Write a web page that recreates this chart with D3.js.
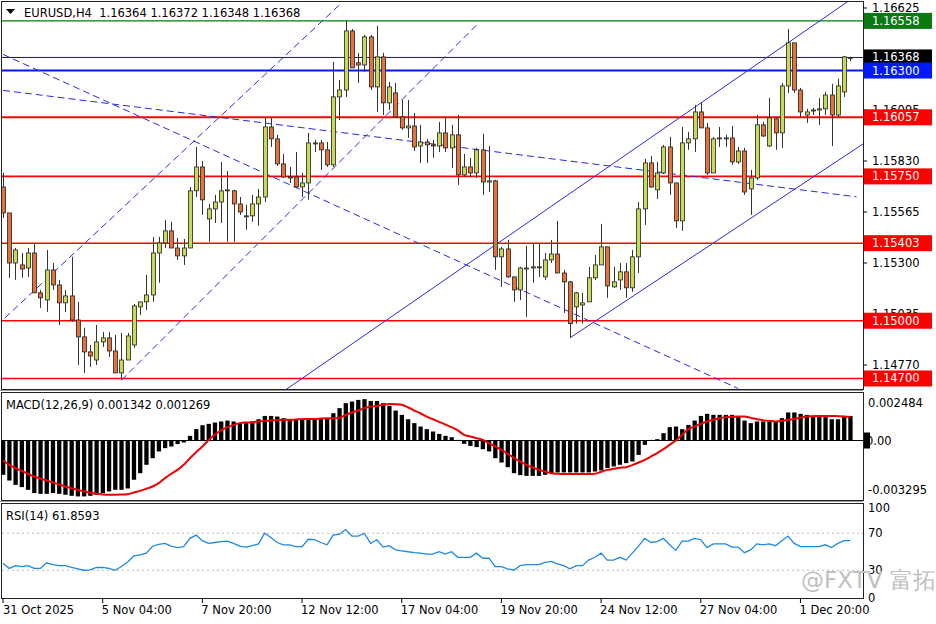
<!DOCTYPE html>
<html><head><meta charset="utf-8">
<script src="https://cdn.jsdelivr.net/npm/d3@7/dist/d3.min.js"></script>
<style>body{margin:0;background:#fff}svg{display:block}text{font-family:"DejaVu Sans",sans-serif}</style>
</head><body><svg id="c" width="936" height="624"></svg>
<script>
const opens=[1.15695,1.15560,1.15300,1.15290,1.15274,1.15352,1.15145,1.15108,1.15264,1.15186,1.15093,1.15129,1.15004,1.14916,1.14838,1.14796,1.14890,1.14911,1.14843,1.14729,1.14796,1.14874,1.15072,1.15098,1.15134,1.15352,1.15404,1.15467,1.15378,1.15337,1.15378,1.15675,1.15799,1.15529,1.15581,1.15617,1.15680,1.15675,1.15607,1.15545,1.15545,1.15607,1.15643,1.16007,1.15945,1.15815,1.15747,1.15747,1.15695,1.15716,1.15924,1.15924,1.15888,1.15810,1.16163,1.16199,1.16506,1.16340,1.16329,1.16475,1.16215,1.16371,1.16132,1.16184,1.16059,1.16002,1.16012,1.15908,1.15929,1.15914,1.15908,1.15976,1.15898,1.15966,1.15758,1.15799,1.15768,1.15888,1.15721,1.15727,1.15332,1.15373,1.15228,1.15160,1.15274,1.15274,1.15280,1.15228,1.15316,1.15347,1.15248,1.15202,1.15072,1.15082,1.15098,1.15223,1.15290,1.15384,1.15176,1.15212,1.15254,1.15171,1.15332,1.15581,1.15820,1.15680,1.15768,1.15903,1.15716,1.15519,1.15924,1.15945,1.16085,1.16002,1.15768,1.15950,1.15950,1.15950,1.15825,1.15882,1.15685,1.15742,1.16018,1.15908,1.16049,1.15976,1.16220,1.16444,1.16199,1.16069,1.16095,1.16095,1.16101,1.16173,1.16069,1.16189,1.16364];
const highs=[1.15768,1.15560,1.15378,1.15352,1.15378,1.15404,1.15160,1.15368,1.15300,1.15212,1.15160,1.15332,1.15098,1.14963,1.14874,1.14978,1.14942,1.14942,1.14926,1.14937,1.14937,1.15087,1.15098,1.15238,1.15436,1.15436,1.15524,1.15514,1.15430,1.15425,1.15695,1.15903,1.15830,1.15607,1.15654,1.15825,1.15778,1.15680,1.15643,1.15602,1.15654,1.15685,1.16054,1.16054,1.15966,1.15867,1.15799,1.15877,1.15768,1.15976,1.15940,1.15940,1.15929,1.16345,1.16251,1.16558,1.16516,1.16392,1.16485,1.16485,1.16532,1.16392,1.16241,1.16236,1.16147,1.16147,1.16080,1.16018,1.15945,1.15940,1.16033,1.16059,1.16018,1.16069,1.15867,1.15846,1.15898,1.15971,1.15908,1.15732,1.15384,1.15420,1.15228,1.15280,1.15389,1.15404,1.15404,1.15352,1.15420,1.15519,1.15264,1.15207,1.15150,1.15145,1.15280,1.15342,1.15503,1.15384,1.15280,1.15300,1.15300,1.15368,1.15617,1.15841,1.15856,1.15825,1.15914,1.15955,1.15716,1.16007,1.15981,1.16121,1.16132,1.16028,1.15955,1.16007,1.15966,1.16012,1.15903,1.15898,1.15784,1.16069,1.16033,1.16158,1.16059,1.16236,1.16516,1.16444,1.16210,1.16101,1.16106,1.16158,1.16189,1.16231,1.16257,1.16376,1.16372];
const lows=[1.15534,1.15223,1.15212,1.15223,1.15228,1.15145,1.15067,1.15046,1.15160,1.14978,1.15046,1.14994,1.14770,1.14729,1.14760,1.14770,1.14864,1.14812,1.14729,1.14693,1.14796,1.14859,1.15030,1.15056,1.15098,1.15197,1.15378,1.15378,1.15316,1.15290,1.15378,1.15643,1.15550,1.15410,1.15508,1.15508,1.15410,1.15410,1.15550,1.15472,1.15514,1.15493,1.15617,1.15903,1.15804,1.15742,1.15716,1.15690,1.15643,1.15628,1.15877,1.15784,1.15799,1.15799,1.16043,1.16163,1.16314,1.16236,1.16293,1.16199,1.16085,1.16069,1.16095,1.16059,1.15992,1.15950,1.15882,1.15820,1.15820,1.15846,1.15877,1.15877,1.15794,1.15706,1.15747,1.15747,1.15742,1.15654,1.15669,1.15264,1.15176,1.15223,1.15098,1.15108,1.15020,1.15197,1.15228,1.15212,1.15300,1.15248,1.15041,1.14911,1.14985,1.14985,1.15098,1.15212,1.15290,1.15119,1.15171,1.15160,1.15119,1.15150,1.15248,1.15498,1.15690,1.15633,1.15763,1.15654,1.15482,1.15467,1.15888,1.15877,1.16002,1.15758,1.15768,1.15903,1.15903,1.15810,1.15815,1.15654,1.15550,1.15732,1.15955,1.15903,1.15888,1.15898,1.16184,1.16184,1.16059,1.16028,1.16069,1.16018,1.16069,1.15908,1.16059,1.16163,1.16348];
const closes=[1.15560,1.15300,1.15368,1.15269,1.15352,1.15145,1.15119,1.15264,1.15186,1.15093,1.15129,1.15004,1.14916,1.14838,1.14817,1.14890,1.14911,1.14843,1.14729,1.14796,1.14921,1.15077,1.15098,1.15134,1.15352,1.15404,1.15467,1.15378,1.15337,1.15378,1.15675,1.15799,1.15628,1.15581,1.15617,1.15675,1.15680,1.15607,1.15565,1.15545,1.15607,1.15643,1.16007,1.15945,1.15815,1.15747,1.15747,1.15695,1.15716,1.15924,1.15924,1.15888,1.15810,1.16163,1.16199,1.16506,1.16314,1.16329,1.16475,1.16215,1.16371,1.16132,1.16215,1.16059,1.16002,1.16012,1.15903,1.15929,1.15914,1.15908,1.15976,1.15898,1.15966,1.15758,1.15799,1.15768,1.15888,1.15721,1.15727,1.15332,1.15373,1.15228,1.15160,1.15274,1.15274,1.15280,1.15280,1.15316,1.15347,1.15248,1.15202,1.14985,1.15145,1.15093,1.15223,1.15290,1.15384,1.15181,1.15202,1.15254,1.15171,1.15332,1.15581,1.15820,1.15695,1.15768,1.15903,1.15716,1.15519,1.15924,1.15945,1.16085,1.16002,1.15768,1.15945,1.15950,1.15950,1.15825,1.15882,1.15669,1.15742,1.16018,1.15960,1.16054,1.15976,1.16220,1.16444,1.16199,1.16085,1.16085,1.16095,1.16101,1.16173,1.16069,1.16220,1.16371,1.16368];
const macdHist=[-0.00229,-0.00267,-0.00296,-0.00311,-0.00329,-0.00351,-0.00356,-0.00356,-0.00351,-0.00356,-0.00362,-0.00369,-0.00373,-0.00373,-0.00369,-0.00362,-0.00351,-0.00340,-0.00329,-0.00329,-0.00320,-0.00262,-0.00218,-0.00162,-0.00118,-0.00073,-0.00051,-0.00040,-0.00024,-0.00013,0.00031,0.00076,0.00102,0.00111,0.00120,0.00127,0.00133,0.00127,0.00116,0.00116,0.00127,0.00142,0.00164,0.00164,0.00160,0.00149,0.00142,0.00138,0.00138,0.00142,0.00142,0.00142,0.00149,0.00182,0.00216,0.00249,0.00260,0.00271,0.00276,0.00264,0.00264,0.00249,0.00231,0.00200,0.00171,0.00142,0.00116,0.00093,0.00076,0.00060,0.00044,0.00031,0.00022,0.00004,-0.00022,-0.00036,-0.00044,-0.00058,-0.00073,-0.00118,-0.00147,-0.00178,-0.00218,-0.00231,-0.00236,-0.00236,-0.00236,-0.00229,-0.00218,-0.00213,-0.00213,-0.00213,-0.00213,-0.00213,-0.00213,-0.00207,-0.00200,-0.00184,-0.00173,-0.00162,-0.00151,-0.00140,-0.00096,-0.00029,0.00004,0.00009,0.00049,0.00089,0.00093,0.00076,0.00104,0.00133,0.00164,0.00178,0.00171,0.00171,0.00171,0.00171,0.00160,0.00133,0.00116,0.00127,0.00127,0.00127,0.00127,0.00149,0.00187,0.00187,0.00178,0.00171,0.00164,0.00160,0.00156,0.00142,0.00142,0.00164,0.00164];
const macdSignal=[-0.00133,-0.00162,-0.00184,-0.00202,-0.00222,-0.00240,-0.00253,-0.00267,-0.00280,-0.00293,-0.00307,-0.00318,-0.00329,-0.00340,-0.00349,-0.00356,-0.00360,-0.00362,-0.00362,-0.00360,-0.00358,-0.00347,-0.00336,-0.00322,-0.00307,-0.00284,-0.00251,-0.00222,-0.00196,-0.00162,-0.00118,-0.00078,-0.00040,0.00004,0.00038,0.00067,0.00089,0.00104,0.00116,0.00120,0.00122,0.00127,0.00131,0.00133,0.00136,0.00138,0.00138,0.00140,0.00142,0.00144,0.00144,0.00147,0.00149,0.00149,0.00151,0.00171,0.00187,0.00200,0.00216,0.00227,0.00231,0.00238,0.00244,0.00242,0.00238,0.00222,0.00200,0.00182,0.00160,0.00142,0.00124,0.00107,0.00089,0.00067,0.00038,0.00027,0.00016,0.00004,-0.00018,-0.00040,-0.00062,-0.00089,-0.00116,-0.00140,-0.00162,-0.00180,-0.00196,-0.00207,-0.00218,-0.00222,-0.00224,-0.00224,-0.00224,-0.00224,-0.00224,-0.00222,-0.00209,-0.00196,-0.00189,-0.00182,-0.00178,-0.00164,-0.00147,-0.00129,-0.00107,-0.00084,-0.00058,-0.00029,0.00000,0.00038,0.00076,0.00093,0.00111,0.00127,0.00138,0.00149,0.00156,0.00158,0.00160,0.00160,0.00151,0.00142,0.00136,0.00131,0.00127,0.00131,0.00138,0.00144,0.00153,0.00160,0.00162,0.00164,0.00164,0.00164,0.00162,0.00160,0.00156];
const rsi=[37.6,32,35,34,35,32,32,38,36,35,35,33,31.5,30,30.5,33,33,32,30,34,39,45.5,46.5,48.5,56,58,59,56,54.5,55.5,64.5,68,62,59,60,61,61.5,59,56,55,56.5,58.5,70,65.5,60,57.5,57.5,55.5,55.5,63.5,63,60,57.5,68,69,74,67,67,70,59,63,55,56.5,52,51,50,49,48.5,47.5,47.5,50,47.5,50,44,44,44,48.5,43,43,34,34,31.5,30,35,36,36,36,38.5,39.5,37,35,31.5,35,35,41,44,48.5,41,41,44,41,48.5,56,64.5,60,61,64.5,57.5,51.5,61.5,61.5,64.5,63,54.5,58.5,58.5,58.5,55,55,49,52,58.5,57.5,58.5,56.5,62,67,59,55.5,55.5,55.5,55.5,57.5,54.5,59,62,62];
const timeLabels=["31 Oct 2025","5 Nov 04:00","7 Nov 20:00","12 Nov 12:00","17 Nov 04:00","19 Nov 20:00","24 Nov 12:00","27 Nov 04:00","1 Dec 20:00"];
const priceTicks=[1.16625,1.16095,1.15830,1.15565,1.15300,1.15035,1.14770];
const levels=[
 {p:1.16558,c:"#008000",bg:"#0a7a12",w:1.2},
 {p:1.16368,c:"#1a1a50",bg:"#000",w:1},
 {p:1.16300,c:"#0019ff",bg:"#0019ff",w:2},
 {p:1.16057,c:"#ff0000",bg:"#ff0000",w:2},
 {p:1.15750,c:"#ff0000",bg:"#ff0000",w:1.6},
 {p:1.15403,c:"#ff0000",bg:"#ff0000",w:1.6},
 {p:1.15000,c:"#ff0000",bg:"#ff0000",w:1.6},
 {p:1.14700,c:"#ff0000",bg:"#ff0000",w:1.6}];
const trendLines=[
 {a:[0,1.16384],b:[118,1.14648],dash:"7,4"},
 {a:[0,1.16197],b:[137,1.15644],dash:"7,4"},
 {a:[19,1.14691],b:[76,1.16536],dash:"7,4"},
 {a:[-1,1.14975],b:[54,1.16641],dash:"7,4"},
 {a:[91,1.14911],b:[138.3,1.15924],dash:null},
 {a:[42,1.14566],b:[137,1.16690],dash:null}];

const svg=d3.select("#c");
const R=863;
const x=d3.scaleLinear().domain([0,136]).range([3,850.3]);
const y=d3.scaleLinear().domain([1.14770,1.16625]).range([365,8]);
const ym=d3.scaleLinear().domain([-0.00397,0.00317]).range([500,393]);
const yr=d3.scaleLinear().domain([0,100]).range([598,505.5]);

svg.append("clipPath").attr("id","cm").append("rect").attr("x",1).attr("y",1).attr("width",R-1).attr("height",388);
const main=svg.append("g").attr("clip-path","url(#cm)");
levels.forEach(l=>main.append("line").attr("x1",0).attr("x2",R).attr("y1",y(l.p)).attr("y2",y(l.p)).attr("stroke",l.c).attr("stroke-width",l.w));
trendLines.forEach(t=>main.append("line").attr("x1",x(t.a[0])).attr("y1",y(t.a[1])).attr("x2",x(t.b[0])).attr("y2",y(t.b[1]))
 .attr("stroke","#2a2ae0").attr("stroke-width",1).attr("stroke-dasharray",t.dash));
const idx=d3.range(opens.length);
main.selectAll(".w").data(idx).join("line").attr("x1",i=>Math.round(x(i))+0.5).attr("x2",i=>Math.round(x(i))+0.5)
 .attr("y1",i=>y(highs[i])).attr("y2",i=>y(lows[i])).attr("stroke","#333").attr("stroke-width",1);
main.selectAll(".b").data(idx).join("rect").attr("x",i=>Math.round(x(i))-1.5).attr("width",4)
 .attr("y",i=>y(Math.max(opens[i],closes[i]))).attr("height",i=>Math.max(1,Math.abs(y(opens[i])-y(closes[i]))))
 .attr("fill",i=>closes[i]>=opens[i]?"#c9d957":"#e6703a").attr("stroke","#222").attr("stroke-width",0.8);

[[1,1,388],[1,392,108],[1,503,95]].forEach(([px,py,h])=>svg.append("rect").attr("x",px+0.5).attr("y",py+0.5).attr("width",R-px).attr("height",h).attr("fill","none").attr("stroke","#222").attr("stroke-width",1));
svg.append("line").attr("x1",0).attr("x2",R).attr("y1",390.5).attr("y2",390.5).attr("stroke","#999");
svg.append("line").attr("x1",0).attr("x2",R).attr("y1",501.5).attr("y2",501.5).attr("stroke","#999");

const ax=svg.append("g");
priceTicks.forEach(p=>{ax.append("line").attr("x1",R).attr("x2",R+4).attr("y1",y(p)).attr("y2",y(p)).attr("stroke","#000");
 ax.append("text").attr("x",872).attr("y",y(p)+4).attr("font-size",11.5).text(p.toFixed(5));});
levels.forEach(l=>{ax.append("rect").attr("x",R+1).attr("y",y(l.p)-8).attr("width",68).attr("height",16).attr("fill",l.bg);
 ax.append("text").attr("x",872).attr("y",y(l.p)+4).attr("font-size",11.5).attr("fill","#fff").text(l.p.toFixed(5));});

svg.append("path").attr("d","M6,9 L15,9 L10.5,14 Z").attr("fill","#000");
svg.append("text").attr("x",24).attr("y",17).attr("font-size",11.5).attr("xml:space","preserve").text("EURUSD,H4  1.16364 1.16372 1.16348 1.16368");

const mg=svg.append("g");
mg.selectAll("rect").data(idx).join("rect").attr("x",i=>x(i)-2).attr("width",4.3)
 .attr("y",i=>Math.min(ym(0),ym(macdHist[i]))).attr("height",i=>Math.abs(ym(macdHist[i])-ym(0))).attr("fill","#000");
mg.append("line").attr("x1",1).attr("x2",R).attr("y1",ym(0)).attr("y2",ym(0)).attr("stroke","#000");
mg.append("path").attr("d",d3.line().x(i=>x(i)).y(i=>ym(macdSignal[i])).curve(d3.curveMonotoneX)(idx)).attr("fill","none").attr("stroke","#ee0000").attr("stroke-width",2);
mg.append("text").attr("x",6).attr("y",409).attr("font-size",11.5).text("MACD(12,26,9) 0.001342 0.001269");
[[0.002484,"0.002484"],[-0.003295,"-0.003295"]].forEach(([v,t])=>mg.append("text").attr("x",868).attr("y",ym(v)+4).attr("font-size",11.5).text(t));
mg.append("rect").attr("x",R+1).attr("y",ym(0)-8).attr("width",6).attr("height",16).attr("fill","#000");
mg.append("text").attr("x",866).attr("y",ym(0)+4).attr("font-size",11.5).text("0.00");

const rg=svg.append("g");
[30,70].forEach(v=>rg.append("line").attr("x1",2).attr("x2",R).attr("y1",yr(v)).attr("y2",yr(v)).attr("stroke","#bbb").attr("stroke-dasharray","2,3"));
rg.append("path").attr("d",d3.line().x(i=>x(i)).y(i=>yr(rsi[i]))(idx)).attr("fill","none").attr("stroke","#1e88e5").attr("stroke-width",1.3);
rg.append("text").attr("x",6).attr("y",520).attr("font-size",11.5).text("RSI(14) 61.8593");
[100,70,30,0].forEach(v=>{rg.append("text").attr("x",868).attr("y",yr(v)+4+(v==100?2:0)).attr("font-size",11.5).text(v);});
svg.append("text").attr("x",801).attr("y",588).attr("font-size",23).attr("fill","#c0c0c0").attr("font-family","Noto Sans CJK SC").text("@FXTV 富拓");

timeLabels.forEach((t,k)=>{const xi=x(k*16);
 svg.append("line").attr("x1",xi).attr("x2",xi).attr("y1",598).attr("y2",603).attr("stroke","#000");
 svg.append("text").attr("x",k==0?3:xi-1).attr("y",614).attr("font-size",11.5).text(t);});
</script></body></html>
